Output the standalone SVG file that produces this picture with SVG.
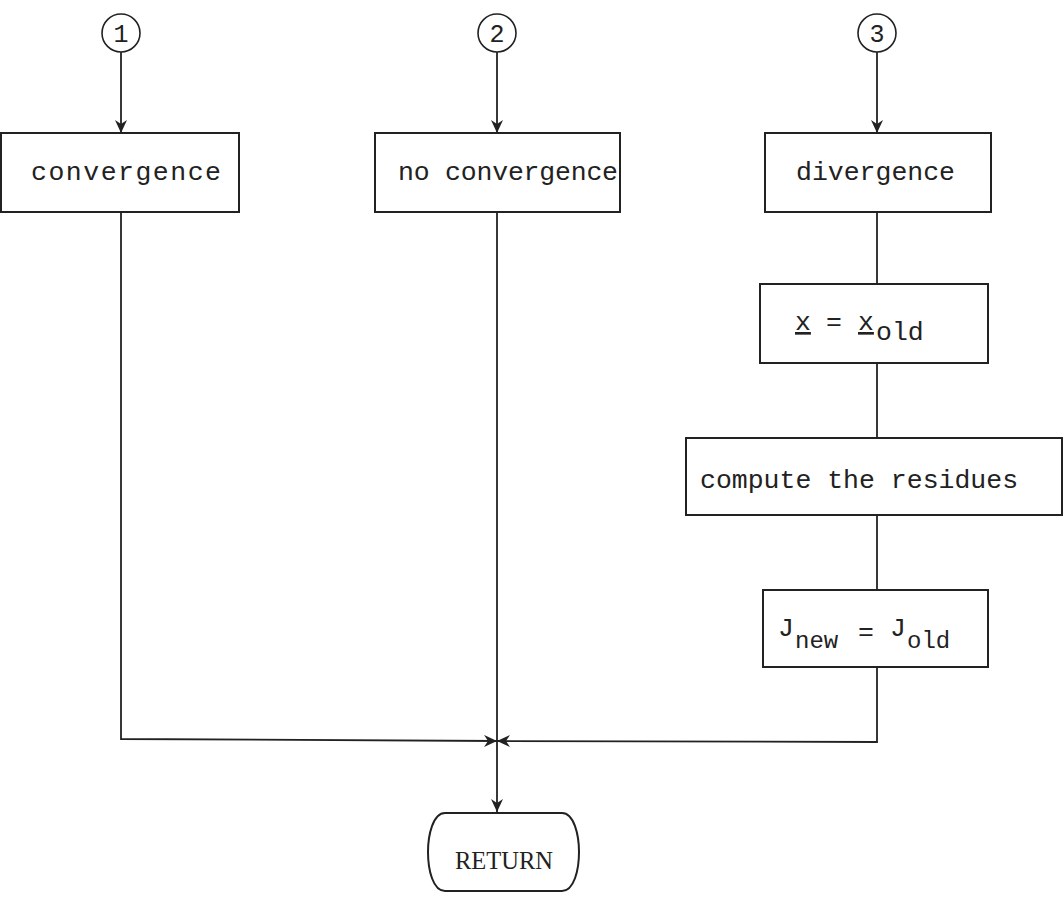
<svg xmlns="http://www.w3.org/2000/svg" width="1064" height="897" viewBox="0 0 1064 897">
<defs>
<style>
.box{fill:#fff;stroke:#222;stroke-width:2}
.ln{fill:none;stroke:#222;stroke-width:1.8}
.t{font-family:"Liberation Mono","DejaVu Sans Mono",monospace;font-size:26.5px;fill:#222}
.s{font-family:"Liberation Mono","DejaVu Sans Mono",monospace;font-size:24px;fill:#222}
.n{font-family:"Liberation Mono","DejaVu Sans Mono",monospace;font-size:25px;fill:#222;text-anchor:middle}
.r{font-family:"Liberation Serif","Times New Roman",serif;font-size:26px;fill:#222}
</style>
<marker id="ah" markerWidth="14" markerHeight="12" refX="13" refY="6" orient="auto" markerUnits="userSpaceOnUse">
<path d="M0,0 L13,6 L0,12 L4,6 Z" fill="#222"/>
</marker>
</defs>
<rect width="1064" height="897" fill="#fff"/>
<g id="connectors">
<line class="ln" x1="121" y1="52" x2="121" y2="133" marker-end="url(#ah)"/>
<line class="ln" x1="497" y1="52" x2="497" y2="133" marker-end="url(#ah)"/>
<line class="ln" x1="877" y1="52" x2="877" y2="133" marker-end="url(#ah)"/>
<line class="ln" x1="877" y1="212" x2="877" y2="284"/>
<line class="ln" x1="877" y1="363" x2="877" y2="438"/>
<line class="ln" x1="877" y1="515" x2="877" y2="590"/>
<polyline class="ln" points="121,212 121,739 497,741" marker-end="url(#ah)"/>
<polyline class="ln" points="877,667 877,742 497,741" marker-end="url(#ah)"/>
<line class="ln" x1="497" y1="212" x2="497" y2="812" marker-end="url(#ah)"/>
</g>
<g id="c1"><circle cx="121" cy="33" r="19" fill="#fff" stroke="#222" stroke-width="1.6"/><text class="n" x="121" y="42">1</text></g>
<g id="c2"><circle cx="497" cy="33" r="19" fill="#fff" stroke="#222" stroke-width="1.6"/><text class="n" x="497" y="42">2</text></g>
<g id="c3"><circle cx="877" cy="33" r="19" fill="#fff" stroke="#222" stroke-width="1.6"/><text class="n" x="877" y="42">3</text></g>
<g id="convergence"><rect class="box" x="1" y="133" width="238" height="79"/><text class="t" x="31" y="180" textLength="190">convergence</text></g>
<g id="noconvergence"><rect class="box" x="375" y="133" width="245" height="79"/><text class="t" x="398" y="180" textLength="220">no convergence</text></g>
<g id="divergence"><rect class="box" x="765" y="133" width="226" height="79"/><text class="t" x="796" y="180">divergence</text></g>
<g id="xold"><rect class="box" x="760" y="284" width="228" height="79"/>
<text class="t" x="795" y="330" text-decoration="underline">x</text>
<text class="t" x="826" y="330">=</text>
<text class="t" x="858" y="330" text-decoration="underline">x</text>
<text class="t" x="876" y="340">old</text></g>
<g id="residues"><rect class="box" x="686" y="438" width="376" height="77"/><text class="t" x="700" y="488">compute the residues</text></g>
<g id="jnew"><rect class="box" x="763" y="590" width="225" height="77"/>
<text class="t" x="778" y="636">J</text>
<text class="s" x="795" y="648">new</text>
<text class="t" x="858" y="640">=</text>
<text class="t" x="890" y="636">J</text>
<text class="s" x="907" y="648">old</text></g>
<g id="return"><path class="box" d="M445,813 L562,813 C574,813 579,835 579,852 C579,870 574,891 562,891 L445,891 C433,891 428,870 428,852 C428,835 433,813 445,813 Z"/><text class="r" x="455" y="869" textLength="98" lengthAdjust="spacingAndGlyphs">RETURN</text></g>
</svg>
